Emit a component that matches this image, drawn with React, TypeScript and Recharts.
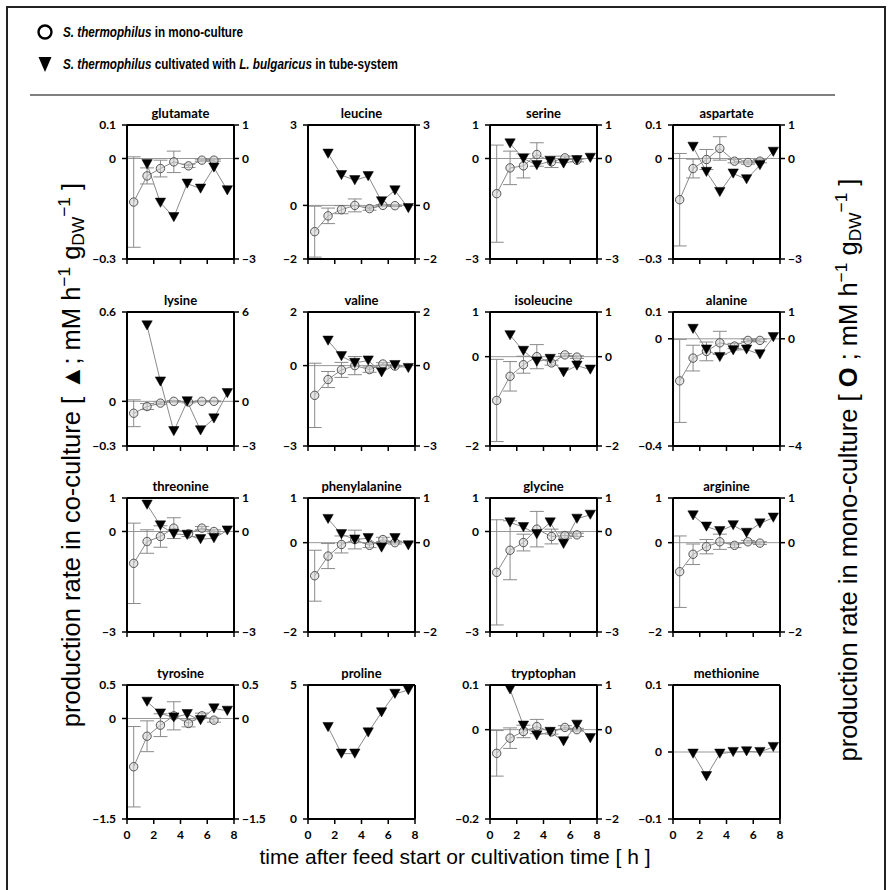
import React from 'react';
import { ComposedChart, Line, XAxis, YAxis, ReferenceLine, ErrorBar } from 'recharts';

// ---------- data ----------
const monoTimes = [0.5, 1.5, 2.5, 3.5, 4.6, 5.6, 6.5];
const coTimes = [1.5, 2.5, 3.5, 4.5, 5.5, 6.5, 7.5];
const xTicks = [0, 2, 4, 6, 8];

const aminoAcids = [
  'glutamate', 'leucine', 'serine', 'aspartate',
  'lysine', 'valine', 'isoleucine', 'alanine',
  'threonine', 'phenylalanine', 'glycine', 'arginine',
  'tyrosine', 'proline', 'tryptophan', 'methionine',
];

// left axis (co-culture, triangles)
const leftRanges: number[][] = [
  [-0.3, 0.1], [-2, 3], [-3, 1], [-0.3, 0.1],
  [-0.3, 0.6], [-3, 2], [-2, 1], [-0.4, 0.1],
  [-3, 1], [-2, 1], [-3, 1], [-2, 1],
  [-1.5, 0.5], [0, 5], [-0.2, 0.1], [-0.1, 0.1],
];

// right axis (mono-culture, circles)
const rightRanges: (number[] | null)[] = [
  [-3, 1], [-2, 3], [-3, 1], [-3, 1],
  [-3, 6], [-3, 2], [-2, 1], [-4, 1],
  [-3, 1], [-2, 1], [-3, 1], [-2, 1],
  [-1.5, 0.5], null, [-2, 1], null,
];

const monoValues: (number[] | null)[] = [
  [-1.3, -0.52, -0.3, -0.1, -0.22, -0.05, -0.05],
  [-0.98, -0.39, -0.16, 0.0, -0.12, 0.0, -0.01],
  [-1.05, -0.28, -0.22, 0.12, -0.1, 0.02, -0.05],
  [-1.23, -0.3, -0.03, 0.3, -0.08, -0.12, -0.08],
  [-0.8, -0.35, -0.12, 0.0, -0.05, 0.0, 0.0],
  [-1.11, -0.52, -0.16, 0.0, -0.15, 0.06, -0.02],
  [-0.98, -0.44, -0.18, 0.0, -0.14, 0.04, -0.01],
  [-1.57, -0.72, -0.47, -0.15, -0.27, -0.06, -0.06],
  [-0.95, -0.3, -0.15, 0.1, -0.07, 0.1, 0.0],
  [-0.74, -0.3, -0.04, 0.07, -0.06, 0.07, 0.0],
  [-1.22, -0.56, -0.33, 0.07, -0.15, -0.12, -0.1],
  [-0.65, -0.26, -0.09, 0.02, -0.06, 0.02, -0.01],
  [-0.72, -0.265, -0.1, 0.04, -0.075, 0.04, -0.025],
  null,
  [-0.53, -0.19, -0.04, 0.07, -0.05, 0.05, 0.0],
  null,
];

const monoErrors: (number[] | null)[] = [
  [1.35, 0.24, 0.25, 0.32, 0.05, 0.03, 0.03],
  [0.95, 0.29, 0.15, 0.24, 0.06, 0.03, 0.03],
  [1.45, 0.5, 0.36, 0.35, 0.17, 0.05, 0.05],
  [1.38, 0.28, 0.3, 0.35, 0.05, 0.05, 0.05],
  [0.9, 0.2, 0.08, 0.05, 0.05, 0.03, 0.03],
  [1.2, 0.3, 0.28, 0.34, 0.1, 0.05, 0.03],
  [0.92, 0.33, 0.19, 0.27, 0.05, 0.03, 0.03],
  [1.55, 0.48, 0.35, 0.43, 0.1, 0.05, 0.05],
  [1.2, 0.35, 0.32, 0.31, 0.08, 0.05, 0.05],
  [0.57, 0.28, 0.19, 0.21, 0.05, 0.05, 0.03],
  [1.57, 0.88, 0.25, 0.53, 0.22, 0.08, 0.05],
  [0.8, 0.23, 0.16, 0.17, 0.05, 0.03, 0.03],
  [0.6, 0.23, 0.17, 0.21, 0.05, 0.04, 0.03],
  null,
  [0.51, 0.23, 0.14, 0.16, 0.05, 0.04, 0.03],
  null,
];

const coValues: number[][] = [
  [-0.017, -0.132, -0.175, -0.075, -0.09, -0.027, -0.095],
  [1.93, 1.13, 0.94, 1.09, 0.15, 0.56, -0.1],
  [0.45, 0.0, -0.2, -0.08, -0.15, -0.05, 0.02],
  [0.035, -0.04, -0.1, -0.045, -0.062, -0.02, 0.02],
  [0.51, 0.133, -0.2, 0.0, -0.195, -0.115, 0.055],
  [0.93, 0.35, 0.1, 0.19, -0.25, 0.02, -0.09],
  [0.48, 0.13, -0.11, -0.05, -0.35, -0.2, -0.29],
  [0.037, -0.04, -0.068, -0.043, -0.04, -0.058, 0.006],
  [0.8, 0.18, -0.07, -0.1, -0.23, -0.2, 0.03],
  [0.53, 0.19, 0.07, 0.1, -0.11, 0.1, -0.06],
  [0.27, 0.13, -0.08, 0.27, -0.37, 0.38, 0.5],
  [0.61, 0.36, 0.26, 0.39, 0.22, 0.43, 0.56],
  [0.25, 0.075, 0.015, 0.065, -0.025, 0.15, 0.115],
  [3.43, 2.44, 2.44, 3.23, 3.98, 4.67, 4.81],
  [0.09, 0.009, -0.013, -0.005, -0.026, 0.011, -0.019],
  [-0.0025, -0.036, -0.0025, 0.0, 0.001, 0.0, 0.0075],
];

// ---------- layout ----------
const COL_LEFT = [127, 308, 490, 673];
const ROW_TOP = [125, 312, 498, 685];
const PLOT_W = 107;
const PLOT_H = 134;
const AXIS_W = 45;
const TOP_M = 12;
const XAXIS_H = 30;

const TICK_FONT = "Lato, 'Open Sans', sans-serif";
const LABEL_FONT = "'Liberation Sans', Arial, sans-serif";

const fmt = (v: number) => (v < 0 ? '\u2212' + String(Math.abs(v)) : String(v));

const tickStyle = { fontSize: 12, fontWeight: 700, fill: '#000', fontFamily: TICK_FONT };

const Triangle = (props: any) => {
  const { cx, cy, index } = props;
  if (cx == null || cy == null) return <g key={`t${index}`} />;
  return (
    <path
      key={`t${index}`}
      d={`M${cx - 5.2},${cy - 4.6} L${cx + 5.2},${cy - 4.6} L${cx},${cy + 4.6} Z`}
      fill="#000"
      stroke="#000"
      strokeWidth={0.5}
    />
  );
};

function Panel({ i }: { i: number }) {
  const row = Math.floor(i / 4);
  const col = i % 4;
  const [lo, hi] = leftRanges[i];
  const rr = rightRanges[i];
  const leftTicks = lo === 0 ? [0, hi] : [lo, 0, hi];
  const rightTicks = rr ? [rr[0], 0, rr[1]] : [];
  const mono = monoValues[i];
  const err = monoErrors[i];
  const monoData = mono ? mono.map((v, k) => ({ t: monoTimes[k], v, e: err ? err[k] : 0 })) : [];
  const coData = coValues[i].map((v, k) => ({ t: coTimes[k], v }));
  const showX = row === 3;

  return (
    <div
      style={{
        position: 'absolute',
        left: COL_LEFT[col] - AXIS_W,
        top: ROW_TOP[row] - TOP_M,
      }}
    >
      <ComposedChart
        width={PLOT_W + 2 * AXIS_W}
        height={TOP_M + PLOT_H + XAXIS_H}
        margin={{ top: TOP_M, right: 0, bottom: 0, left: 0 }}
      >
        <XAxis
          dataKey="t"
          type="number"
          domain={[0, 8]}
          ticks={xTicks}
          interval={0}
          allowDataOverflow
          height={XAXIS_H}
          axisLine={{ stroke: '#000', strokeWidth: 2 }}
          tickLine={{ stroke: '#000', strokeWidth: 1.5 }}
          tickSize={5}
          tickMargin={6}
          tick={tickStyle}
          tickFormatter={(v: number) => (showX ? String(v) : '')}
        />
        <YAxis
          yAxisId="left"
          orientation="left"
          type="number"
          domain={[lo, hi]}
          ticks={leftTicks}
          interval={0}
          allowDataOverflow
          width={AXIS_W}
          axisLine={{ stroke: '#000', strokeWidth: 2 }}
          tickLine={{ stroke: '#000', strokeWidth: 1.5 }}
          tickSize={5}
          tickMargin={6}
          tick={tickStyle}
          tickFormatter={fmt}
        />
        <YAxis
          yAxisId="right"
          orientation="right"
          type="number"
          domain={rr ? [rr[0], rr[1]] : [0, 1]}
          ticks={rr ? rightTicks : undefined}
          interval={0}
          allowDataOverflow
          width={AXIS_W}
          axisLine={{ stroke: '#000', strokeWidth: 2 }}
          tickLine={rr ? { stroke: '#000', strokeWidth: 1.5 } : false}
          tickSize={5}
          tickMargin={3}
          tick={rr ? tickStyle : false}
          tickFormatter={fmt}
        />
        <ReferenceLine yAxisId="left" y={hi} stroke="#000" strokeWidth={2} />
        {lo !== 0 && <ReferenceLine yAxisId="left" y={0} stroke="#999" strokeWidth={1} />}
        {mono && (
          <Line
            yAxisId="right"
            data={monoData}
            dataKey="v"
            stroke="#8a8a8a"
            strokeWidth={1}
            isAnimationActive={false}
            dot={{ r: 4.2, fill: '#cfcfcf', fillOpacity: 0.55, stroke: '#555', strokeWidth: 1 }}
            activeDot={false}
          >
            <ErrorBar dataKey="e" direction="y" width={7} stroke="#8a8a8a" strokeWidth={1} />
          </Line>
        )}
        <Line
          yAxisId="left"
          data={coData}
          dataKey="v"
          stroke="#8a8a8a"
          strokeWidth={1}
          isAnimationActive={false}
          dot={Triangle}
          activeDot={false}
        />
      </ComposedChart>
      <div
        style={{
          position: 'absolute',
          left: AXIS_W,
          width: PLOT_W,
          top: TOP_M - 19,
          textAlign: 'center',
          fontFamily: TICK_FONT,
          fontWeight: 700,
          fontSize: 13,
          lineHeight: '14px',
          color: '#000',
          whiteSpace: 'nowrap',
        }}
      >
        {aminoAcids[i]}
      </div>
    </div>
  );
}

function VLabel({ cx, cy, children }: { cx: number; cy: number; children: React.ReactNode }) {
  const W = 800;
  const H = 30;
  return (
    <div
      style={{
        position: 'absolute',
        left: cx - W / 2,
        top: cy - H / 2,
        width: W,
        height: H,
        lineHeight: `${H}px`,
        textAlign: 'center',
        transform: 'rotate(-90deg)',
        fontFamily: LABEL_FONT,
        fontSize: 25.5,
        color: '#000',
        whiteSpace: 'nowrap',
      }}
    >
      {children}
    </div>
  );
}

const supStyle: React.CSSProperties = { fontSize: '0.68em', verticalAlign: '0.55em', lineHeight: 0 };
const subStyle: React.CSSProperties = { fontSize: '0.68em', verticalAlign: '-0.25em', lineHeight: 0 };

const legendText: React.CSSProperties = {
  position: 'absolute',
  left: 63,
  fontFamily: LABEL_FONT,
  fontWeight: 700,
  fontSize: 15,
  lineHeight: '20px',
  whiteSpace: 'nowrap',
  transform: 'scaleX(0.78)',
  transformOrigin: '0 50%',
};

export default function App() {
  return (
    <div
      style={{
        position: 'absolute',
        left: 0,
        top: 0,
        width: 892,
        height: 890,
        overflow: 'hidden',
        background: '#fff',
      }}
    >
      {/* outer frame */}
      <div
        style={{
          position: 'absolute',
          left: 6,
          top: 6,
          width: 880,
          height: 920,
          border: '2px solid #222',
          boxSizing: 'border-box',
        }}
      />
      {/* legend */}
      <svg style={{ position: 'absolute', left: 0, top: 0 }} width={892} height={100}>
        <circle cx={45} cy={32} r={6.5} fill="none" stroke="#000" strokeWidth={2.4} />
        <path d="M38.5,57 L51.5,57 L45,72 Z" fill="#000" />
        <line x1={30} y1={95} x2={835} y2={95} stroke="#000" strokeWidth={1.2} />
      </svg>
      <div style={{ ...legendText, top: 22 }}>
        <i>S. thermophilus</i> in mono-culture
      </div>
      <div style={{ ...legendText, top: 54 }}>
        <i>S. thermophilus</i> cultivated with <i>L. bulgaricus</i> in tube-system
      </div>

      {aminoAcids.map((_, i) => (
        <Panel key={i} i={i} />
      ))}

      {/* axis labels */}
      <div
        style={{
          position: 'absolute',
          left: 0,
          width: 910,
          top: 845,
          textAlign: 'center',
          fontFamily: LABEL_FONT,
          fontSize: 21,
          lineHeight: '24px',
          whiteSpace: 'nowrap',
        }}
      >
        time after feed start or cultivation time [ h ]
      </div>
      <VLabel cx={71} cy={455}>
        production rate in co-culture [ {'\u25B2'}; mM h<span style={supStyle}>{'\u22121'}</span> g
        <span style={subStyle}>DW</span>
        <span style={supStyle}>{'\u22121'}</span> ]
      </VLabel>
      <VLabel cx={848} cy={470}>
        production rate in mono-culture [ <b>O</b> ; mM h<span style={supStyle}>{'\u22121'}</span> g
        <span style={subStyle}>DW</span>
        <span style={supStyle}>{'\u22121'}</span> ]
      </VLabel>
    </div>
  );
}
